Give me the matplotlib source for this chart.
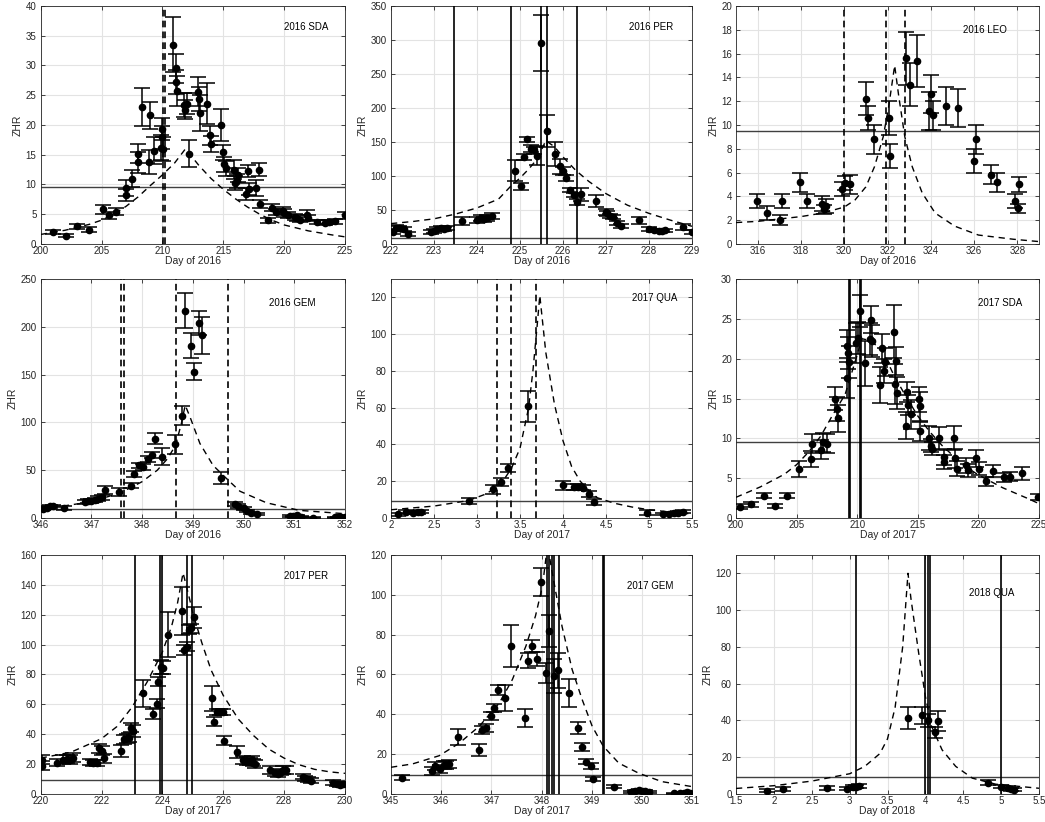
import matplotlib
matplotlib.use("Agg")
import matplotlib.pyplot as plt
from matplotlib.ticker import FormatStrFormatter, MultipleLocator

plt.rcParams["font.family"] = ["Liberation Sans", "DejaVu Sans"]

# ---- 2016 SDA ----
sda16_day = [201.0, 202.05, 203.0, 204.0, 205.1, 205.6, 206.2, 207.0, 207.0, 207.5,
             208.0, 208.0, 208.3, 208.9, 209.0, 209.3, 209.9, 209.95, 210.05, 210.0,
             210.9, 211.1, 211.1, 211.2, 211.8, 211.9, 212.0, 212.2, 212.9, 213.0,
             213.1, 213.7, 213.9, 214.0, 214.8, 215.0, 215.1, 215.2, 215.9, 216.0,
             216.1, 216.2, 216.9, 217.0, 217.1, 217.7, 217.9, 218.0, 218.7, 219.0,
             219.3, 219.9, 220.0, 220.3, 220.9, 221.1, 221.3, 221.9, 222.0, 222.7,
             223.4, 223.7, 224.2, 225.0]
sda16_zhr = [2.0, 1.4, 3.0, 2.4, 5.8, 4.8, 5.4, 9.4, 8.2, 11.0,
             15.2, 13.7, 23.0, 13.8, 21.6, 15.7, 16.2, 19.3, 15.9, 17.9,
             33.5, 29.5, 27.2, 25.7, 23.3, 22.6, 23.6, 15.2, 25.6, 24.4,
             22.0, 23.6, 18.3, 16.8, 20.0, 15.4, 13.4, 12.7, 12.5, 10.2,
             10.6, 11.6, 8.4, 12.2, 9.2, 9.4, 12.5, 6.7, 4.0, 6.1,
             5.3, 5.6, 5.2, 4.8, 4.6, 4.3, 4.1, 4.9, 4.4, 3.7,
             3.6, 3.7, 3.8, 4.8]
sda16_err = [0.3, 0.3, 0.4, 0.4, 0.8, 0.6, 0.6, 1.3, 1.0, 1.4,
             1.6, 1.8, 3.2, 2.0, 2.2, 2.2, 2.1, 1.8, 2.0, 2.0,
             4.6, 2.5, 2.0, 2.5, 2.0, 1.6, 1.7, 2.2, 2.4, 2.0,
             3.0, 3.4, 1.6, 1.4, 2.7, 1.3, 1.3, 1.3, 1.6, 1.2,
             1.2, 1.2, 1.0, 1.0, 1.0, 1.3, 1.1, 0.7, 0.4, 0.6,
             0.5, 0.6, 0.6, 0.5, 0.5, 0.5, 0.4, 0.8, 0.5, 0.4,
             0.4, 0.4, 0.4, 0.6]
sda16_fit_day = [200, 202, 204, 205, 206, 207, 208, 209, 210, 211, 211.9, 213, 214,
                 215, 216, 217, 218, 219, 220, 222, 224, 225]
sda16_fit_zhr = [1.6, 2.3, 3.3, 4.0, 5.0, 6.3, 7.9, 9.8, 11.6, 13.6, 16.0, 13.2, 11.0,
                 9.2, 7.6, 6.2, 5.0, 4.0, 3.2, 2.2, 1.5, 1.2]
sda16_lines = [210.05, 210.25]

# ---- 2016 PER ----
per16_day = [222.04, 222.12, 222.19, 222.29, 222.39, 222.94, 223.0, 223.08, 223.16, 223.24,
             223.31, 223.66, 224.01, 224.09, 224.17, 224.24, 224.34, 224.88, 225.02, 225.09,
             225.16, 225.25, 225.33, 225.39, 225.49, 225.63, 225.81, 225.93, 226.0, 226.08,
             226.16, 226.25, 226.33, 226.42, 226.77, 226.99, 227.03, 227.1, 227.17, 227.26,
             227.34, 227.76, 227.99, 228.11, 228.23, 228.3, 228.38, 228.8, 229.0]
per16_zhr = [18, 24, 23, 22, 14, 18, 19, 22, 23, 22,
             23, 34, 35, 38, 36, 38, 41, 108, 85, 128,
             154, 140, 138, 130, 296, 166, 132, 114, 107, 97,
             80, 72, 62, 73, 63, 47, 45, 41, 39, 31,
             27, 35, 22, 20, 19, 19, 20, 25, 17]
per16_err = [4, 4, 3, 3, 3, 3, 3, 3, 3, 3,
             3, 6, 4, 4, 4, 4, 4, 15, 5, 5,
             4, 5, 5, 14, 41, 24, 18, 11, 6, 4,
             3, 3, 4, 10, 9, 4, 4, 3, 3, 3,
             3, 5, 3, 2, 2, 2, 2, 5, 3]
per16_fit_day = [222, 222.5, 223, 223.5, 224, 224.5, 224.8, 225, 225.2, 225.4, 225.6,
                 225.8, 226, 226.3, 226.6, 227, 227.5, 228, 228.5, 229]
per16_fit_zhr = [30, 33, 37, 44, 53, 66, 86, 97, 110, 125, 152,
                 143, 128, 108, 92, 74, 57, 45, 35, 26]
per16_lines = [223.47, 224.78, 225.48, 225.62, 226.33]

# ---- 2016 LEO ----
leo16_day = [315.97, 316.45, 317.03, 317.14, 317.96, 318.27, 318.97, 319.05, 319.15, 319.92,
             320.05, 320.28, 321.02, 321.1, 321.39, 322.05, 322.13, 322.87, 323.03, 323.37,
             323.9, 324.0, 324.09, 324.71, 325.26, 325.98, 326.07, 326.8, 327.07, 327.89,
             328.03, 328.08]
leo16_zhr = [3.6, 2.6, 2.0, 3.6, 5.2, 3.6, 3.4, 2.9, 3.2, 4.6,
             5.1, 5.0, 12.2, 10.6, 8.8, 10.6, 7.4, 15.6, 13.4, 15.4,
             11.2, 12.6, 10.8, 11.6, 11.4, 7.0, 8.8, 5.8, 5.2, 3.6,
             3.0, 5.0]
leo16_err = [0.6, 0.6, 0.4, 0.6, 0.8, 0.6, 0.6, 0.4, 0.6, 0.6,
             0.6, 0.8, 1.4, 1.0, 1.2, 1.4, 1.0, 2.2, 1.8, 2.2,
             1.6, 1.6, 1.2, 1.6, 1.6, 1.0, 1.2, 0.8, 0.8, 0.6,
             0.4, 0.6]
leo16_fit_day = [315, 316, 317, 318, 319, 320, 320.5, 321, 321.4, 321.8, 322.05, 322.33,
                 322.52, 322.8, 323.14, 323.6, 324.2, 325.1, 326.2, 327.8, 329]
leo16_fit_zhr = [1.8, 1.9, 2.1, 2.3, 2.6, 3.1, 3.7, 4.8, 6.5, 9.0, 11.5, 15.0,
                 12.4, 9.0, 6.5, 4.3, 2.6, 1.5, 0.75, 0.4, 0.2]
leo16_lines = [320.0, 321.95, 322.8]

# ---- 2016 GEM ----
gem16_day = [346.04, 346.12, 346.18, 346.25, 346.47, 346.87, 346.94, 347.0, 347.07, 347.14,
             347.2, 347.27, 347.54, 347.78, 347.85, 347.94, 348.01, 348.12, 348.19, 348.26,
             348.4, 348.65, 348.78, 348.85, 348.96, 349.02, 349.13, 349.19, 349.55, 349.83,
             349.9, 350.0, 350.06, 350.14, 350.27, 350.91, 350.98, 351.06, 351.14, 351.37,
             351.8, 351.87, 351.93, 352.0]
gem16_zhr = [9.8, 10.8, 12.2, 12.6, 10.8, 16.8, 17.5, 18.2, 18.5, 20.3,
             21.6, 29.0, 27.0, 34.0, 46.0, 55.0, 53.0, 62.0, 66.0, 83.0,
             64.0, 77.0, 107.0, 217.0, 180.0, 153.0, 204.0, 191.0, 42.0, 15.0,
             13.0, 10.0, 7.0, 5.0, 4.0, 2.0, 1.7, 2.8, 1.4, 0.5,
             1.0, 0.7, 0.7, 1.0]
gem16_err = [1.5, 1.5, 1.5, 1.5, 2.0, 2.0, 2.0, 2.0, 2.0, 2.5,
             2.5, 4.0, 4.0, 3.0, 3.0, 3.0, 3.0, 3.0, 3.0, 6.0,
             9.0, 10.0, 10.0, 18.0, 13.0, 9.0, 13.0, 19.0, 6.0, 2.0,
             2.0, 1.5, 1.0, 1.0, 0.8, 0.8, 0.8, 0.8, 0.6, 0.4,
             0.5, 0.5, 0.5, 0.5]
gem16_fit_day = [346, 346.5, 347, 347.58, 348, 348.3, 348.5, 348.66, 348.78, 348.85,
                 348.95, 349.14, 349.4, 349.69, 349.93, 350.45, 351.1, 352]
gem16_fit_zhr = [10.5, 13, 17, 26.5, 38, 50, 62, 76, 100, 118,
                 105, 78, 55, 40, 28, 16, 8, 4.5]
gem16_lines = [347.58, 347.64, 348.66, 349.69]

# ---- 2017 QUA ----
qua17_day = [2.08, 2.17, 2.25, 2.31, 2.35, 2.91, 3.18, 3.28, 3.36, 3.59,
             4.0, 4.13, 4.18, 4.23, 4.3, 4.36, 4.98, 5.16, 5.23, 5.29,
             5.34, 5.39]
qua17_zhr = [2.0, 3.3, 2.9, 3.1, 3.3, 9.3, 15.6, 19.6, 27.3, 60.7,
             17.8, 16.9, 16.9, 16.5, 13.1, 8.7, 2.9, 2.2, 2.4, 2.7,
             2.9, 3.3]
qua17_err = [1.0, 1.0, 0.8, 0.8, 0.8, 1.5, 2.5, 2.0, 2.2, 8.5,
             2.5, 1.8, 1.5, 1.5, 1.5, 1.5, 1.5, 0.8, 0.8, 0.8,
             0.8, 0.8]
qua17_fit_day = [2.0, 2.5, 2.9, 3.1, 3.2, 3.3, 3.4, 3.5, 3.6, 3.65, 3.7, 3.73,
                 3.8, 3.9, 4.0, 4.1, 4.2, 4.3, 4.4, 4.6, 4.8, 5.0, 5.2, 5.5]
qua17_fit_zhr = [4.5, 6.5, 9.5, 13, 16, 20, 27, 38, 60, 80, 105, 121,
                 90, 62, 42, 28, 20, 15, 11, 8, 6, 4.5, 3.5, 2.2]
qua17_lines = [3.23, 3.39, 3.69]

# ---- 2017 SDA ----
sda17_day = [200.3, 201.26, 202.3, 203.23, 204.24, 205.23, 206.19, 206.24, 206.98, 207.2,
             207.48, 208.16, 208.3, 208.43, 209.12, 209.17, 209.25, 209.3, 209.88, 210.08,
             210.21, 210.62, 211.03, 211.12, 211.25, 211.9, 212.05, 212.18, 212.32, 213.0,
             213.08, 213.17, 213.25, 213.99, 214.1, 214.18, 214.45, 215.06, 215.2, 215.15,
             215.96, 216.05, 216.16, 216.73, 217.14, 217.2, 217.96, 218.07, 218.21, 218.98,
             219.11, 219.8, 220.07, 220.62, 221.22, 222.07, 222.62, 223.58, 224.9]
sda17_zhr = [1.4, 1.7, 2.8, 1.5, 2.8, 6.1, 7.4, 9.3, 8.6, 9.5,
             9.3, 15.0, 13.7, 12.5, 17.6, 21.6, 20.7, 19.6, 22.0, 22.6,
             26.0, 19.4, 22.5, 24.9, 22.2, 16.7, 21.3, 18.5, 19.6, 23.4,
             16.8, 19.7, 15.7, 11.6, 15.8, 14.2, 13.0, 14.9, 14.0, 10.9,
             10.0, 9.1, 8.7, 10.0, 7.0, 7.7, 10.1, 7.5, 6.2, 6.6,
             6.0, 7.5, 6.2, 4.6, 5.9, 5.1, 5.2, 5.6, 2.6]
sda17_err = [0.3, 0.3, 0.3, 0.3, 0.3, 1.0, 1.0, 1.2, 1.2, 1.2,
             1.2, 1.5, 1.5, 1.7, 2.5, 2.0, 2.0, 2.0, 2.5, 2.0,
             2.0, 2.8, 2.0, 1.7, 2.0, 2.3, 1.8, 1.5, 1.8, 3.3,
             2.5, 1.8, 2.0, 1.7, 1.3, 1.3, 1.8, 1.6, 1.8, 1.2,
             1.5, 0.8, 0.8, 1.4, 0.9, 1.0, 1.5, 1.2, 0.9, 0.9,
             0.8, 1.1, 0.8, 0.6, 0.7, 0.6, 0.6, 0.8, 0.4]
sda17_fit_day = [200, 202, 204, 205, 206, 207, 208, 209, 209.4, 210, 210.4, 211, 212,
                 213, 214, 215, 216, 217, 218, 219, 220, 222, 224, 225]
sda17_fit_zhr = [2.6, 3.9, 5.5, 6.7, 8.3, 10.3, 13.0, 15.5, 17.5, 20.5, 22.5, 22.3, 21.2,
                 18.0, 15.3, 12.8, 10.8, 9.1, 7.7, 6.4, 5.4, 3.8, 2.5, 1.8]
sda17_lines = [209.34, 209.43, 210.21, 210.30]

# ---- 2017 PER ----
per17_day = [220.05, 220.05, 220.55, 220.74, 220.85, 220.96, 221.05, 221.62, 221.73, 221.84,
             221.92, 222.0, 222.08, 222.63, 222.74, 222.83, 222.9, 222.96, 223.02, 223.37,
             223.7, 223.81, 223.87, 223.96, 224.01, 224.19, 224.65, 224.72, 224.8, 224.88,
             224.94, 225.04, 225.62, 225.7, 225.78, 225.89, 225.98, 226.02, 226.46, 226.66,
             226.77, 226.88, 226.93, 226.99, 227.04, 227.53, 227.7, 227.81, 227.9, 227.97,
             228.06, 228.61, 228.69, 228.8, 228.9, 229.62, 229.73, 229.84, 229.95]
per17_zhr = [22.8, 19.0, 21.0, 22.8, 23.4, 22.8, 24.3, 21.6, 21.0, 21.0,
             30.6, 28.8, 23.9, 29.0, 36.6, 37.3, 37.7, 44.4, 42.4, 67.4,
             53.6, 60.3, 75.0, 85.0, 84.6, 106.5, 122.7, 96.4, 98.6, 109.8,
             110.9, 118.3, 64.0, 48.4, 54.7, 54.9, 55.1, 35.7, 28.3, 22.8,
             22.0, 21.6, 22.8, 21.0, 20.0, 16.0, 13.8, 13.4, 14.5, 16.0,
             16.0, 11.6, 10.5, 9.8, 8.9, 7.6, 6.5, 6.0, 6.5]
per17_err = [3.0, 3.0, 2.5, 3.0, 3.0, 3.0, 3.0, 2.0, 2.0, 2.0,
             3.0, 3.0, 3.0, 4.0, 3.0, 3.0, 3.0, 3.0, 4.0, 9.0,
             3.5, 3.0, 3.0, 4.5, 4.5, 15.0, 16.0, 3.5, 3.0, 3.0,
             3.0, 7.0, 8.5, 3.0, 2.0, 2.0, 2.0, 3.0, 4.0, 2.5,
             2.5, 2.5, 2.5, 2.5, 2.5, 2.5, 2.0, 2.0, 2.0, 2.5,
             2.5, 1.5, 1.5, 1.5, 1.5, 1.5, 1.5, 1.5, 1.5]
per17_fit_day = [220, 221, 222, 222.5, 223, 223.5, 224, 224.3, 224.5, 224.68, 224.9, 225,
                 225.3, 225.6, 226, 226.5, 227, 227.5, 228, 228.5, 229, 229.5, 230]
per17_fit_zhr = [24, 28, 37, 45, 58, 75, 95, 112, 128, 148, 130, 121,
                 101, 83, 66, 50, 39, 30, 24, 19.5, 16.5, 14.8, 13.8]
per17_lines = [223.1, 223.93, 224.0, 224.8, 224.97]

# ---- 2017 GEM ----
gem17_day = [345.22, 345.82, 345.88, 345.98, 346.05, 346.09, 346.16, 346.34, 346.76, 346.82,
             346.89, 346.99, 347.06, 347.14, 347.27, 347.4, 347.67, 347.73, 347.82, 347.9,
             347.98, 348.08, 348.15, 348.25, 348.33, 348.55, 348.73, 348.81, 348.89, 348.98,
             349.03, 349.44, 349.79, 349.87, 349.94, 350.0, 350.07, 350.14, 350.64, 350.77,
             350.84, 350.9, 350.97]
gem17_zhr = [8.1, 11.3, 13.8, 12.4, 14.6, 14.6, 15.0, 28.6, 22.2, 32.3,
             32.9, 39.0, 43.2, 52.1, 48.1, 74.1, 38.0, 67.0, 74.3, 67.9,
             106.6, 60.8, 81.8, 59.2, 62.0, 50.8, 33.1, 23.5, 16.3, 14.1,
             7.4, 3.7, 1.2, 1.7, 2.0, 1.7, 1.5, 1.2, 0.3, 0.5,
             0.7, 0.8, 0.7]
gem17_err = [1.2, 2.0, 2.0, 2.0, 2.0, 2.0, 2.0, 4.0, 3.0, 2.0,
             2.0, 2.0, 2.0, 2.5, 6.5, 10.5, 4.5, 4.0, 3.0, 3.5,
             7.0, 5.0, 8.0, 8.5, 9.0, 7.0, 3.0, 2.0, 1.5, 1.5,
             1.0, 0.6, 0.5, 0.5, 0.5, 0.5, 0.5, 0.5, 0.3, 0.3,
             0.3, 0.3, 0.3]
gem17_fit_day = [345, 345.43, 345.96, 346.36, 346.76, 347.16, 347.42, 347.69, 347.88, 348.02,
                 348.12, 348.2, 348.41, 348.61, 348.81, 349.01, 349.23, 349.54, 349.94, 350.4, 351]
gem17_fit_zhr = [13.4, 15.1, 19.2, 25.5, 34, 45.7, 57.5, 74.3, 89.4, 104.5,
                 125, 113, 84, 62.5, 47.4, 34, 24, 15.5, 10.4, 6.2, 3.7]
gem17_lines = [348.1, 348.15, 348.2, 348.24, 348.35, 349.22, 349.25]

# ---- 2018 QUA ----
qua18_day = [1.91, 2.12, 2.7, 2.97, 3.05, 3.09, 3.13, 3.77, 3.95, 4.04,
             4.13, 4.17, 4.82, 5.0, 5.09, 5.13, 5.17]
qua18_zhr = [1.8, 2.6, 3.1, 2.9, 4.0, 4.0, 4.2, 41.5, 42.7, 40.0,
             33.6, 39.6, 6.2, 4.0, 3.1, 2.6, 2.2]
qua18_err = [0.8, 1.2, 1.2, 1.0, 1.0, 1.0, 1.0, 6.0, 4.7, 3.5,
             3.0, 5.5, 1.3, 1.0, 1.0, 0.8, 0.8]
qua18_fit_day = [1.5, 2.0, 2.5, 3.0, 3.2, 3.4, 3.5, 3.6, 3.7, 3.77,
                 3.81, 3.91, 4.0, 4.08, 4.22, 4.4, 4.62, 4.93, 5.5]
qua18_fit_zhr = [3.0, 4.5, 7.0, 11, 15, 22, 30, 47, 80, 120,
                 106, 77, 53, 37, 24, 15, 8.6, 5.3, 3.1]
qua18_lines = [3.09, 4.0, 4.04, 4.06, 5.0]

zhr_threshold = 9.5

# shower, year, data, fit, peak lines, line style, xlim, ylim, x step, y step, label pos
panels = [
    ("2016 SDA", 2016, (sda16_day, sda16_zhr, sda16_err), (sda16_fit_day, sda16_fit_zhr),
     sda16_lines, "--", (200, 225), (0, 40), 5, 5, (0.80, 0.91)),
    ("2016 PER", 2016, (per16_day, per16_zhr, per16_err), (per16_fit_day, per16_fit_zhr),
     per16_lines, "-", (222, 229), (0, 350), 1, 50, (0.79, 0.91)),
    ("2016 LEO", 2016, (leo16_day, leo16_zhr, leo16_err), (leo16_fit_day, leo16_fit_zhr),
     leo16_lines, "--", (315, 329), (0, 20), 2, 2, (0.75, 0.90)),
    ("2016 GEM", 2016, (gem16_day, gem16_zhr, gem16_err), (gem16_fit_day, gem16_fit_zhr),
     gem16_lines, "--", (346, 352), (0, 250), 1, 50, (0.75, 0.90)),
    ("2017 QUA", 2017, (qua17_day, qua17_zhr, qua17_err), (qua17_fit_day, qua17_fit_zhr),
     qua17_lines, "--", (2, 5.5), (0, 130), 0.5, 20, (0.80, 0.92)),
    ("2017 SDA", 2017, (sda17_day, sda17_zhr, sda17_err), (sda17_fit_day, sda17_fit_zhr),
     sda17_lines, "-", (200, 225), (0, 30), 5, 5, (0.80, 0.90)),
    ("2017 PER", 2017, (per17_day, per17_zhr, per17_err), (per17_fit_day, per17_fit_zhr),
     per17_lines, "-", (220, 230), (0, 160), 2, 20, (0.80, 0.91)),
    ("2017 GEM", 2017, (gem17_day, gem17_zhr, gem17_err), (gem17_fit_day, gem17_fit_zhr),
     gem17_lines, "-", (345, 351), (0, 120), 1, 20, (0.785, 0.87)),
    ("2018 QUA", 2018, (qua18_day, qua18_zhr, qua18_err), (qua18_fit_day, qua18_fit_zhr),
     qua18_lines, "-", (1.5, 5.5), (0, 130), 0.5, 20, (0.77, 0.84)),
]

# axes boxes in figure fractions
col_left = [0.0389, 0.3742, 0.7043]
col_width = [0.2912, 0.2880, 0.2900]
row_bottom = [0.7032, 0.3698, 0.0341]
row_height = [0.2895, 0.2908, 0.2908]

ink = "#262626"

fig = plt.figure(figsize=(10.45, 8.22), dpi=100)

for i, (name, year, data, fit, lines, lstyle, xlim, ylim, xstep, ystep, lpos) in enumerate(panels):
    r, c = divmod(i, 3)
    ax = fig.add_axes([col_left[c], row_bottom[r], col_width[c], row_height[r]])

    ax.grid(True, color="#e3e3e3", linewidth=0.8)
    ax.set_axisbelow(True)

    days, zhr, err = data
    ax.errorbar(days, zhr, yerr=err, fmt="o", color="black", ms=4.5,
                elinewidth=1.1, capsize=5.5, capthick=1.1, zorder=3)

    # model activity profile
    ax.plot(fit[0], fit[1], color="black", linewidth=1.0,
            linestyle=(0, (4.5, 3.5)), zorder=4)

    for x in lines:
        if lstyle == "--":
            ax.axvline(x, color="black", linewidth=1.2, linestyle=(0, (4, 2.5)), zorder=4)
        else:
            ax.axvline(x, color="black", linewidth=1.2, zorder=4)

    ax.axhline(zhr_threshold, color="#404040", linewidth=1.0, zorder=2)

    ax.set_xlim(*xlim)
    ax.set_ylim(*ylim)
    ax.xaxis.set_major_locator(MultipleLocator(xstep))
    ax.yaxis.set_major_locator(MultipleLocator(ystep))
    ax.xaxis.set_major_formatter(FormatStrFormatter("%g"))
    ax.yaxis.set_major_formatter(FormatStrFormatter("%g"))

    ax.tick_params(direction="in", top=True, right=True, length=3, width=0.6,
                   labelsize=7, colors=ink)
    ax.tick_params(axis="x", pad=1.5)
    ax.tick_params(axis="y", pad=3)
    for s in ax.spines.values():
        s.set_color(ink)
        s.set_linewidth(0.6)

    ax.set_xlabel(f"Day of {year}", fontsize=7.5, color=ink, labelpad=0)
    ax.set_ylabel("ZHR", fontsize=7.5, color=ink, labelpad=2)
    ax.text(lpos[0], lpos[1], name, transform=ax.transAxes, fontsize=7,
            color="black", va="center", ha="left")

fig.savefig("out.png", dpi=100)
